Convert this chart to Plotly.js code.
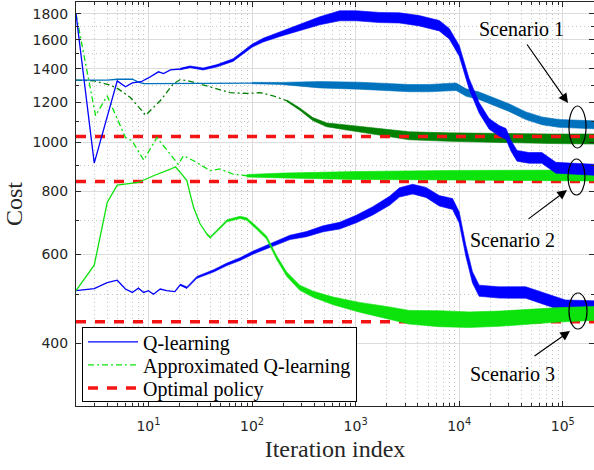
<!DOCTYPE html>
<html><head><meta charset="utf-8">
<script src="https://cdn.plot.ly/plotly-3.0.1.min.js"></script>
<style>html,body{margin:0;padding:0;background:#fff}#chart{width:594px;height:470px}</style>
</head><body><div id="chart"></div>
<script>
// ---------- data ----------
// Scenario 1, Q-learning (light blue)
var s1QX = [2,3,4,5,6,7,8,9,10,20,50,100,190,450,1090,3300,5150,9340,11670,15570,20750,30200,44060,62800,91600,200000];
var s1QY = [1330,1330,1330,1335,1338,1336,1318,1309,1309,1311,1312,1312,1310,1302,1296,1282,1282,1290,1256,1238,1210,1173,1130,1104,1091,1084];
// Scenario 1, approximated Q-learning (dark green)
var s1AX = [2,2.96,4.3,5.15,6.7,9.4,13,17.4,20.3,23.7,31.6,46,61.4,89.6,119,159,217,289,386,526,819,1276,1986,3304,8020,24270,80000,200000];
var s1AY = [1330,1326,1300,1276,1228,1133,1210,1307,1333,1326,1306,1276,1256,1251,1256,1238,1210,1165,1113,1084,1071,1058,1047,1031,1025,1020,1017,1016];
// Scenario 2, Q-learning (blue)
var s2QX = [2,3,5,6,7,8.5,10,12.5,14,16.3,20.3,25.3,33.8,46,65.6,100,128,186,289,451,702,1020,1700,2650,4120,6420,8020,10000,12480,15570,19420,24270,28300,31620,36140,47100,62800,73300,85700,127700,200000];
var s2QY = [1800,910,1325,1290,1313,1320,1343,1381,1370,1393,1399,1413,1399,1420,1457,1556,1596,1641,1692,1744,1784,1784,1770,1767,1744,1705,1643,1521,1307,1172,1089,1055,1040,985,941,932,932,911,891,887,883];
// Scenario 2, approximated Q-learning (bright green)
var s2AX = [2,3.09,4.0,6.0,6.95,9.0,12.1,16.3,19.4,21.8,27.3,39.5,49.3,66,89,200,1000,10000,200000];
var s2AY = [1800,1130,1238,1023,1008,923,1023,948,905,941,920,879,886,865,859,860,860,861,860];
// Scenario 3, Q-learning (blue)
var s3QX = [2,3,4,5,6,7,8,9,10,11.2,13,15,18,20.3,23.5,29.4,42.5,57.2,76.7,103,160,232,336,485,702,1016,1467,2123,2650,3556,4785,6420,8630,10000,11590,13430,15570,24270,43760,68200,106000,200000];
var s3QY = [508,513,527,533,512,504,514,504,508,500,512,508,506,522,515,540,556,573,587,605,628,648,658,674,684,705,732,766,796,808,796,766,755,710,610,540,508,504,504,489,474,472];
// Scenario 3, approximated Q-learning (bright green)
var s3AX = [2,3,4,5,8,11.2,16.3,18.2,20.3,23.5,25.3,27.3,31.6,36.7,39.5,45.8,57.2,76.7,89,110,138,173,216,289,389,607,1090,1985,3300,6420,12480,24270,47100,91600,200000];
var s3AY = [508,571,760,823,833,859,885,895,872,840,790,743,689,658,648,668,699,710,705,678,648,591,548,515,500,485,471,460,450,447,445,447,451,455,458];
// Optimal policy costs for the three scenarios
var optimalX = [2,200000];
var optimalCost = [1028,837,441];
// tick labels and texts
var xTickVals = [10,100,1000,10000,100000];
var xTickText = ['10<sup>1</sup>','10<sup>2</sup>','10<sup>3</sup>','10<sup>4</sup>','10<sup>5</sup>'];
var yTickVals = [400,600,800,1000,1200,1400,1600,1800];
var yMinorVals = [500,700,900,1100,1300,1500,1700];
var scenarioLabels = ['Scenario 1','Scenario 2','Scenario 3'];
var seriesNames = ['Q-learning','Approximated Q-learning','Optimal policy'];

// ---------- styling ----------
var C_BLUE = '#0000ff', C_LBLUE = '#0072bd', C_DGREEN = '#008000', C_GREEN = 'rgb(12,226,12)', C_RED = 'rgb(245,20,20)';
var DASHDOT = '6px,3px,2px,3px';
var W = 594, H = 470, M = {l:76, r:0, t:2, b:64};
var X_RANGE = [Math.log10(2), Math.log10(200000)], Y_RANGE = [Math.log10(300), Math.log10(1900)];
var PX_PER_DECADE_Y = (H - M.t - M.b) / (Y_RANGE[1] - Y_RANGE[0]);

// thin line part: up to lineEnd; noisy band part: thickness profile (px) from its first knot on
var styles = {
  s1Q: {color:C_LBLUE,  lineEnd:190,  dash:'solid', band:[[100,1.3],[190,2],[300,6],[1090,7],[200000,8]]},
  s1A: {color:C_DGREEN, lineEnd:289,  dash:DASHDOT, band:[[217,1.5],[386,3],[819,5],[3304,8],[200000,10]]},
  s2Q: {color:C_BLUE,   lineEnd:25.3, dash:'solid', band:[[20.3,1.5],[100,3],[289,6],[700,10],[200000,11]]},
  s2A: {color:C_GREEN,  lineEnd:89,   dash:DASHDOT, band:[[89,2.5],[300,6],[2000,9],[200000,11]]},
  s3Q: {color:C_BLUE,   lineEnd:23.5, dash:'solid', band:[[20.3,1.5],[160,3.5],[485,6],[2123,9],[10000,11],[200000,12]]},
  s3A: {color:C_GREEN,  lineEnd:39.5, dash:'solid', band:[[36.7,1.5],[138,3],[389,6],[1985,12],[6420,16],[200000,14]]}
};

function thicknessAt(knots, x) {
  var lx = Math.log10(x);
  if (x <= knots[0][0]) return knots[0][1];
  for (var i = 1; i < knots.length; i++) {
    if (x <= knots[i][0]) {
      var a = Math.log10(knots[i-1][0]), b = Math.log10(knots[i][0]);
      return knots[i-1][1] + (knots[i][1] - knots[i-1][1]) * (lx - a) / (b - a);
    }
  }
  return knots[knots.length-1][1];
}

function seriesTraces(xs, ys, st) {
  var out = [];
  var lx = [], ly = [];
  for (var k = 0; k < xs.length; k++) if (xs[k] <= st.lineEnd) { lx.push(xs[k]); ly.push(ys[k]); }
  out.push({type:'scatter', mode:'lines', x:lx, y:ly, showlegend:false, hoverinfo:'skip',
    line:{color:st.color, width:1.3, dash:st.dash}});
  var bx = [], up = [], lo = [];
  for (var j = 0; j < xs.length; j++) {
    if (xs[j] < st.band[0][0]) continue;
    var f = Math.pow(10, thicknessAt(st.band, xs[j]) / 2 / PX_PER_DECADE_Y);
    bx.push(xs[j]); up.push(ys[j] * f); lo.push(ys[j] / f);
  }
  out.push({type:'scatter', mode:'lines', fill:'toself', fillcolor:st.color, showlegend:false, hoverinfo:'skip',
    x:bx.concat(bx.slice().reverse()), y:up.concat(lo.slice().reverse()),
    line:{color:st.color, width:0.6}});
  return out;
}

var traces = [];
traces = traces.concat(seriesTraces(s1AX, s1AY, styles.s1A));
optimalCost.forEach(function (c, i) {
  traces.push({type:'scatter', mode:'lines', x:optimalX, y:[c,c], name:seriesNames[2],
    showlegend:i===0, legendrank:3, hoverinfo:'skip',
    line:{color:C_RED, width:3.5, dash:'10px,9px'}});
});
traces = traces.concat(seriesTraces(s1QX, s1QY, styles.s1Q));
var s2A = seriesTraces(s2AX, s2AY, styles.s2A);
s2A[0].showlegend = true; s2A[0].name = seriesNames[1]; s2A[0].legendrank = 2;
traces = traces.concat(s2A);
traces = traces.concat(seriesTraces(s3QX, s3QY, styles.s3Q));
traces = traces.concat(seriesTraces(s3AX, s3AY, styles.s3A));
var s2Q = seriesTraces(s2QX, s2QY, styles.s2Q);
s2Q[0].showlegend = true; s2Q[0].name = seriesNames[0]; s2Q[0].legendrank = 1;
traces = traces.concat(s2Q);

var xMinor = [];
[1,10,100,1000,10000,100000].forEach(function (d) { for (var m = 2; m <= 9; m++) xMinor.push(m*d); });

var serif = 'Liberation Serif, Times New Roman, serif';
var axisCommon = {
  showline:true, linecolor:'#262626', linewidth:1, mirror:'allticks',
  ticks:'inside', ticklen:5, tickcolor:'#262626', tickwidth:1,
  showgrid:true, gridcolor:'#dcdcdc', gridwidth:1, zeroline:false,
  tickfont:{family:'DejaVu Sans, sans-serif', size:14, color:'#262626'}
};
var annFont = {family:serif, size:20, color:'#000'};

var layout = {
  width:W, height:H, margin:M,
  paper_bgcolor:'#fff', plot_bgcolor:'#fff',
  showlegend:true,
  legend:{x:0.0116, y:0.01, xanchor:'left', yanchor:'bottom', bgcolor:'#fff',
    bordercolor:'#000', borderwidth:1, itemwidth:50, tracegroupgap:0,
    font:{family:serif, size:20, color:'#000'}},
  xaxis:Object.assign({}, axisCommon, {
    type:'log', range:X_RANGE,
    tickmode:'array', tickvals:xTickVals, ticktext:xTickText, ticklabelstandoff:7,
    minor:{tickmode:'array', tickvals:xMinor, ticks:'inside', ticklen:3, tickcolor:'#262626',
      showgrid:true, gridcolor:'#c4c4c4', griddash:'1px,3px', gridwidth:1},
    title:{text:'Iteration index', font:{family:serif, size:24, color:'#262626'}, standoff:7}
  }),
  yaxis:Object.assign({}, axisCommon, {
    type:'log', range:Y_RANGE,
    tickmode:'array', tickvals:yTickVals, ticktext:yTickVals.map(String), ticklabelstandoff:4,
    minor:{tickmode:'array', tickvals:yMinorVals, ticks:'inside', ticklen:3, tickcolor:'#262626',
      showgrid:true, gridcolor:'#c4c4c4', griddash:'1px,3px', gridwidth:1},
    title:{text:'Cost', font:{family:serif, size:24, color:'#262626'}, standoff:3}
  }),
  shapes:[
    {type:'circle', xref:'paper', yref:'paper', x0:0.9517, x1:0.9846, y0:0.6386, y1:0.7426, line:{color:'#000', width:1.2}},
    {type:'circle', xref:'paper', yref:'paper', x0:0.9498, x1:0.9826, y0:0.5223, y1:0.6114, line:{color:'#000', width:1.2}},
    {type:'circle', xref:'paper', yref:'paper', x0:0.9517, x1:0.9865, y0:0.1906, y1:0.2797, line:{color:'#000', width:1.2}}
  ],
  annotations:[
    {xref:'paper', yref:'paper', x:0.9498, y:0.75, ax:-42, ay:-60, text:'', showarrow:true, arrowhead:2, arrowsize:1.6, arrowwidth:1.2, arrowcolor:'#000'},
    {xref:'paper', yref:'paper', x:0.9479, y:0.5347, ax:-40, ay:30, text:'', showarrow:true, arrowhead:2, arrowsize:1.6, arrowwidth:1.2, arrowcolor:'#000'},
    {xref:'paper', yref:'paper', x:0.9537, y:0.1856, ax:-37, ay:26, text:'', showarrow:true, arrowhead:2, arrowsize:1.6, arrowwidth:1.2, arrowcolor:'#000'},
    {xref:'paper', yref:'paper', x:0.8591, y:0.9332, xanchor:'center', yanchor:'middle', text:scenarioLabels[0], showarrow:false, font:annFont},
    {xref:'paper', yref:'paper', x:0.8436, y:0.4109, xanchor:'center', yanchor:'middle', text:scenarioLabels[1], showarrow:false, font:annFont},
    {xref:'paper', yref:'paper', x:0.8417, y:0.0792, xanchor:'center', yanchor:'middle', text:scenarioLabels[2], showarrow:false, font:annFont}
  ]
};

function parseTranslate(el) {
  var m = /translate\(\s*([-\d.e]+)[ ,]+([-\d.e]+)\s*\)/.exec(el.getAttribute('transform') || '');
  return m ? [+m[1], +m[2]] : [0, 0];
}

Plotly.newPlot('chart', traces, layout, {staticPlot:true, displayModeBar:false}).then(function (gd) {
  // tighten the legend rows to the reference's compact spacing
  var leg = gd.querySelector('g.legend');
  if (!leg) return;
  var items = Array.prototype.slice.call(leg.querySelectorAll('g.traces'));
  if (!items.length) return;
  items.sort(function (a, b) { return parseTranslate(a)[1] - parseTranslate(b)[1]; });
  var bg = leg.querySelector('rect.bg');
  var oldH = bg ? +bg.getAttribute('height') : 0;
  var FIRST = 15, GAP = 23, NEW_H = 74;
  items.forEach(function (it, i) {
    var p = parseTranslate(it);
    it.setAttribute('transform', 'translate(' + p[0] + ',' + (FIRST + i * GAP) + ')');
  });
  if (bg) bg.setAttribute('height', NEW_H);
  var lp = parseTranslate(leg);
  leg.setAttribute('transform', 'translate(' + lp[0] + ',' + (lp[1] + oldH - NEW_H) + ')');
});
</script></body></html>
